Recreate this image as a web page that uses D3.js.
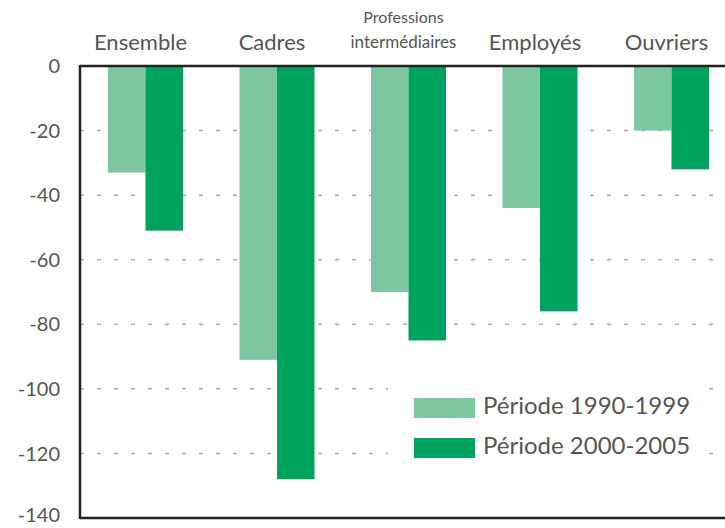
<!DOCTYPE html>
<html>
<head>
<meta charset="utf-8">
<script src="https://cdn.jsdelivr.net/npm/d3@7"></script>
<style>
  html, body { margin: 0; padding: 0; background: #fff; }
  svg { display: block; }
  text { font-family: Lato, "Open Sans", sans-serif; fill: #555; }
</style>
</head>
<body>
<svg id="chart" width="725" height="528"></svg>
<script>
// Categories (top labels; "Professions intermédiaires" is drawn on two lines)
const categories = ["Ensemble", "Cadres", "Professions intermédiaires", "Employés", "Ouvriers"];
const categoryLines = [["Ensemble"], ["Cadres"], ["Professions", "intermédiaires"], ["Employés"], ["Ouvriers"]];
// Series values
const series1Name = "Période 1990-1999";
const series1 = [-33, -91, -70, -44, -20];
const series2Name = "Période 2000-2005";
const series2 = [-51, -128, -85, -76, -32];
// Y axis ticks
const yTicks = [0, -20, -40, -60, -80, -100, -120, -140];

const colors = ["#7cc6a0", "#00a35d"];

const svg = d3.select("#chart");
const plotLeft = 80, plotRight = 725, plotTop = 66, plotBottom = 518;

const y = d3.scaleLinear().domain([0, -140]).range([plotTop, plotBottom]);
const x0 = d3.scaleBand().domain(categories).range([plotLeft + 28, plotLeft + 28 + 5 * 131.5]).paddingInner(0).paddingOuter(0);
const x1 = d3.scaleBand().domain([0, 1]).range([0, 75]);

// Dashed gridlines
svg.append("g")
  .selectAll("line")
  .data(yTicks.filter(d => d < 0 && d > -140))
  .join("line")
  .attr("x1", plotLeft).attr("x2", plotRight)
  .attr("y1", d => y(d)).attr("y2", d => y(d))
  .attr("stroke", "#aaa")
  .attr("stroke-width", 1.5)
  .attr("stroke-dasharray", "4,13");

// Bars
const groups = svg.append("g")
  .selectAll("g")
  .data(categories)
  .join("g")
  .attr("transform", d => `translate(${x0(d)},0)`);

groups.selectAll("rect")
  .data((d, i) => [series1[i], series2[i]])
  .join("rect")
  .attr("x", (d, j) => x1(j))
  .attr("width", x1.bandwidth())
  .attr("y", y(0))
  .attr("height", d => y(d) - y(0))
  .attr("fill", (d, j) => colors[j]);

// Axis frame
const frame = svg.append("g").attr("stroke", "#222").attr("stroke-width", 2.5).attr("fill", "none");
frame.append("line").attr("x1", plotLeft).attr("x2", plotRight).attr("y1", y(0)).attr("y2", y(0));
frame.append("line").attr("x1", plotLeft).attr("x2", plotRight).attr("y1", y(-140)).attr("y2", y(-140));
frame.append("line").attr("x1", plotLeft).attr("x2", plotLeft).attr("y1", y(0) - 1).attr("y2", y(-140) + 1);

// Y tick labels (plain hyphen as the minus sign)
svg.append("g")
  .selectAll("text")
  .data(yTicks)
  .join("text")
  .attr("x", 60)
  .attr("y", d => y(d))
  .attr("dy", d => d === -140 ? "0.2em" : "0.36em")
  .attr("text-anchor", "end")
  .attr("font-size", 20)
  .attr("fill", "#666")
  .text(d => String(d));

// Category labels above the chart
const labelX = d => x0(d) + 37.5 - 5;
const catLabels = svg.append("g")
  .selectAll("text")
  .data(categories)
  .join("text")
  .attr("text-anchor", "middle")
  .attr("x", labelX);

catLabels.each(function(d, i) {
  const lines = categoryLines[i];
  const t = d3.select(this);
  if (lines.length === 1) {
    t.append("tspan").attr("x", labelX(d)).attr("y", 50).attr("font-size", 22).text(lines[0]);
  } else {
    t.append("tspan").attr("x", labelX(d)).attr("y", 23).attr("font-size", 16).text(lines[0]);
    t.append("tspan").attr("x", labelX(d)).attr("y", 48).attr("font-size", 17).text(lines[1]);
  }
});

// Legend on a white panel that hides the gridlines behind it
const legend = svg.append("g");
legend.append("rect").attr("x", 388).attr("y", 380).attr("width", 308).attr("height", 88).attr("fill", "#fff");
[series1Name, series2Name].forEach((name, i) => {
  const ly = 398 + i * 40;
  legend.append("rect").attr("x", 414).attr("y", ly).attr("width", 61).attr("height", 20).attr("fill", colors[i]);
  legend.append("text").attr("x", 483).attr("y", ly + 16).attr("font-size", 24).text(name);
});
</script>
</body>
</html>
